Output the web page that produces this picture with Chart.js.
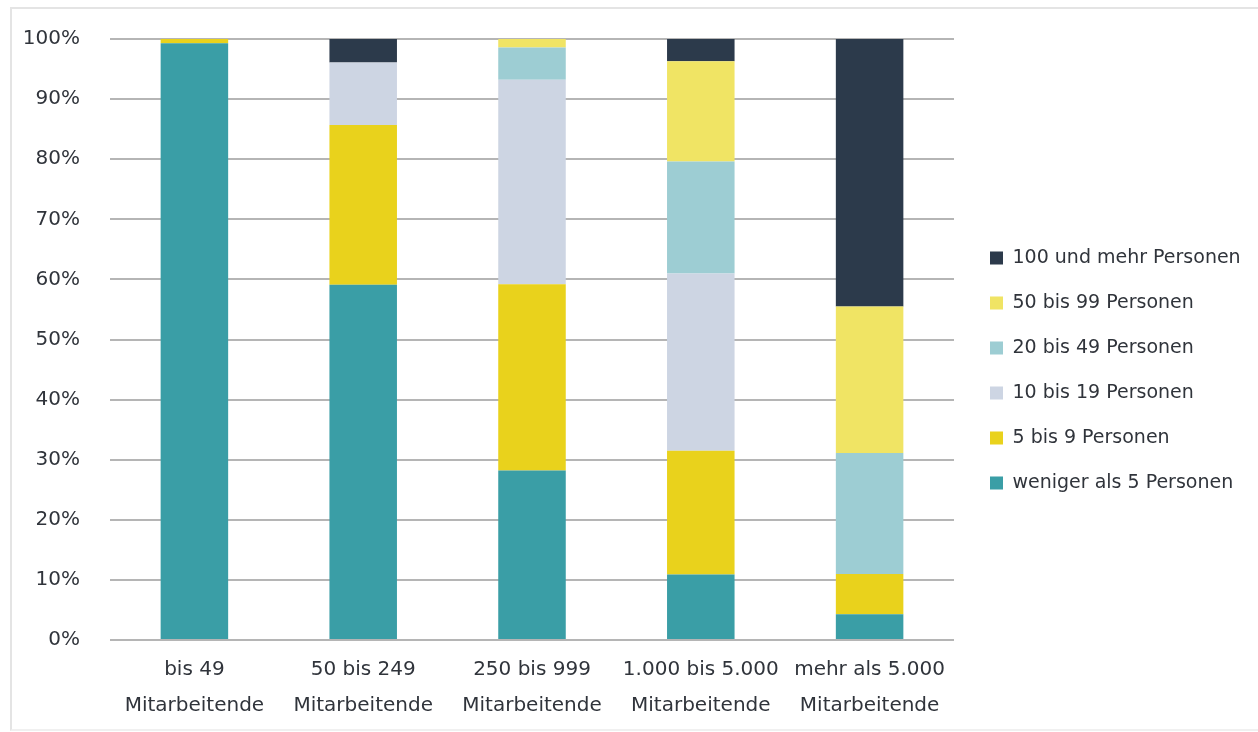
<!DOCTYPE html>
<html lang="de">
<head>
<meta charset="utf-8">
<title>Größe der Teams nach Unternehmensgröße</title>
<script src="https://cdn.jsdelivr.net/npm/chart.js@4/dist/chart.umd.min.js"></script>
<style>
  html, body { margin: 0; padding: 0; background: #ffffff; }
  body { width: 1258px; height: 732px; position: relative; overflow: hidden; }
  .frame {
    position: absolute; left: 10px; top: 7px; width: 1300px; height: 720px;
    border-left: 2px solid #e4e4e4; border-top: 2px solid #e4e4e4; border-bottom: 2px solid #f0f0f0;
  }
  #wrap { position: absolute; left: 0; top: 0; width: 1258px; height: 732px; }
</style>
</head>
<body>
<div class="frame"></div>
<div id="wrap"><canvas id="chart" width="1258" height="732"></canvas></div>
<script>
// Unternehmensgröße (Kategorien), zweizeilige Beschriftung
const categories = [
  ['bis 49', 'Mitarbeitende'],
  ['50 bis 249', 'Mitarbeitende'],
  ['250 bis 999', 'Mitarbeitende'],
  ['1.000 bis 5.000', 'Mitarbeitende'],
  ['mehr als 5.000', 'Mitarbeitende']
];

// Anteile in Prozent je Teamgröße
const wenigerAls5 = [99.3, 59.1, 28.2, 10.9, 4.3];
const bis5bis9    = [0.7, 26.6, 31.0, 20.6, 6.7];
const bis10bis19  = [0, 10.4, 34.0, 29.5, 0];
const bis20bis49  = [0, 0, 5.4, 18.6, 20.1];
const bis50bis99  = [0, 0, 1.4, 16.7, 24.4];
const ab100       = [0, 3.9, 0, 3.7, 44.5];

const seriesLabels = [
  'weniger als 5 Personen',
  '5 bis 9 Personen',
  '10 bis 19 Personen',
  '20 bis 49 Personen',
  '50 bis 99 Personen',
  '100 und mehr Personen'
];

const yTicks = [0, 10, 20, 30, 40, 50, 60, 70, 80, 90, 100];

const colors = ['#3a9ea6', '#e9d21c', '#cdd5e3', '#9dcdd3', '#f0e464', '#2c3a4b'];
const seriesValues = [wenigerAls5, bis5bis9, bis10bis19, bis20bis49, bis50bis99, ab100];

const FONT = "'DejaVu Sans', sans-serif";
const TEXT = '#30343b';

// Schiebt die Legende ein Stück vom Diagrammbereich weg
const legendOffset = {
  id: 'legendOffset',
  afterLayout(chart, args, opts) {
    const l = chart.legend;
    if (!l) return;
    l.left += opts.dx; l.right += opts.dx;
    l.top += opts.dy; l.bottom += opts.dy;
  }
};

const chart = new Chart(document.getElementById('chart'), {
  type: 'bar',
  data: {
    labels: categories,
    datasets: seriesValues.map((vals, i) => ({
      label: seriesLabels[i],
      data: vals,
      backgroundColor: colors[i],
      borderWidth: 0,
      barPercentage: 0.4,
      categoryPercentage: 1.0
    }))
  },
  options: {
    responsive: false,
    animation: false,
    layout: { padding: { left: 0, top: 39, right: 20, bottom: 0 } },
    scales: {
      x: {
        stacked: true,
        grid: { display: false, drawTicks: false },
        border: { display: false },
        ticks: {
          color: TEXT,
          font: { family: FONT, size: 20, lineHeight: 1.8 },
          padding: 12,
          maxRotation: 0,
          autoSkip: false
        },
        afterFit(scale) { scale.height = 92; }
      },
      y: {
        stacked: true,
        min: 0,
        max: 100,
        afterBuildTicks(scale) { scale.ticks = yTicks.map(v => ({ value: v })); },
        grid: { color: '#b5b5b5', lineWidth: 2, drawTicks: false },
        border: { display: false },
        ticks: {
          color: TEXT,
          font: { family: FONT, size: 20 },
          padding: 30,
          callback: v => v + '%'
        },
        afterFit(scale) {
          scale.width = 110;
          // der Abstand der Beschriftung soll den oberen Rand nicht vergrößern
          scale.paddingTop = 0;
          scale.paddingBottom = 0;
        }
      }
    },
    plugins: {
      legend: {
        position: 'right',
        reverse: true,
        labels: {
          color: TEXT,
          font: { family: FONT, size: 19 },
          boxWidth: 13,
          boxHeight: 13,
          padding: 26
        }
      },
      tooltip: { enabled: false },
      legendOffset: { dx: 10, dy: -15 }
    }
  },
  plugins: [legendOffset]
});

// Rechten Rand so wählen, dass der Diagrammbereich bei x = 954 endet
chart.options.layout.padding.right = Math.max(0, 1258 - 954 - chart.legend.width);
chart.update('none');
</script>
</body>
</html>
